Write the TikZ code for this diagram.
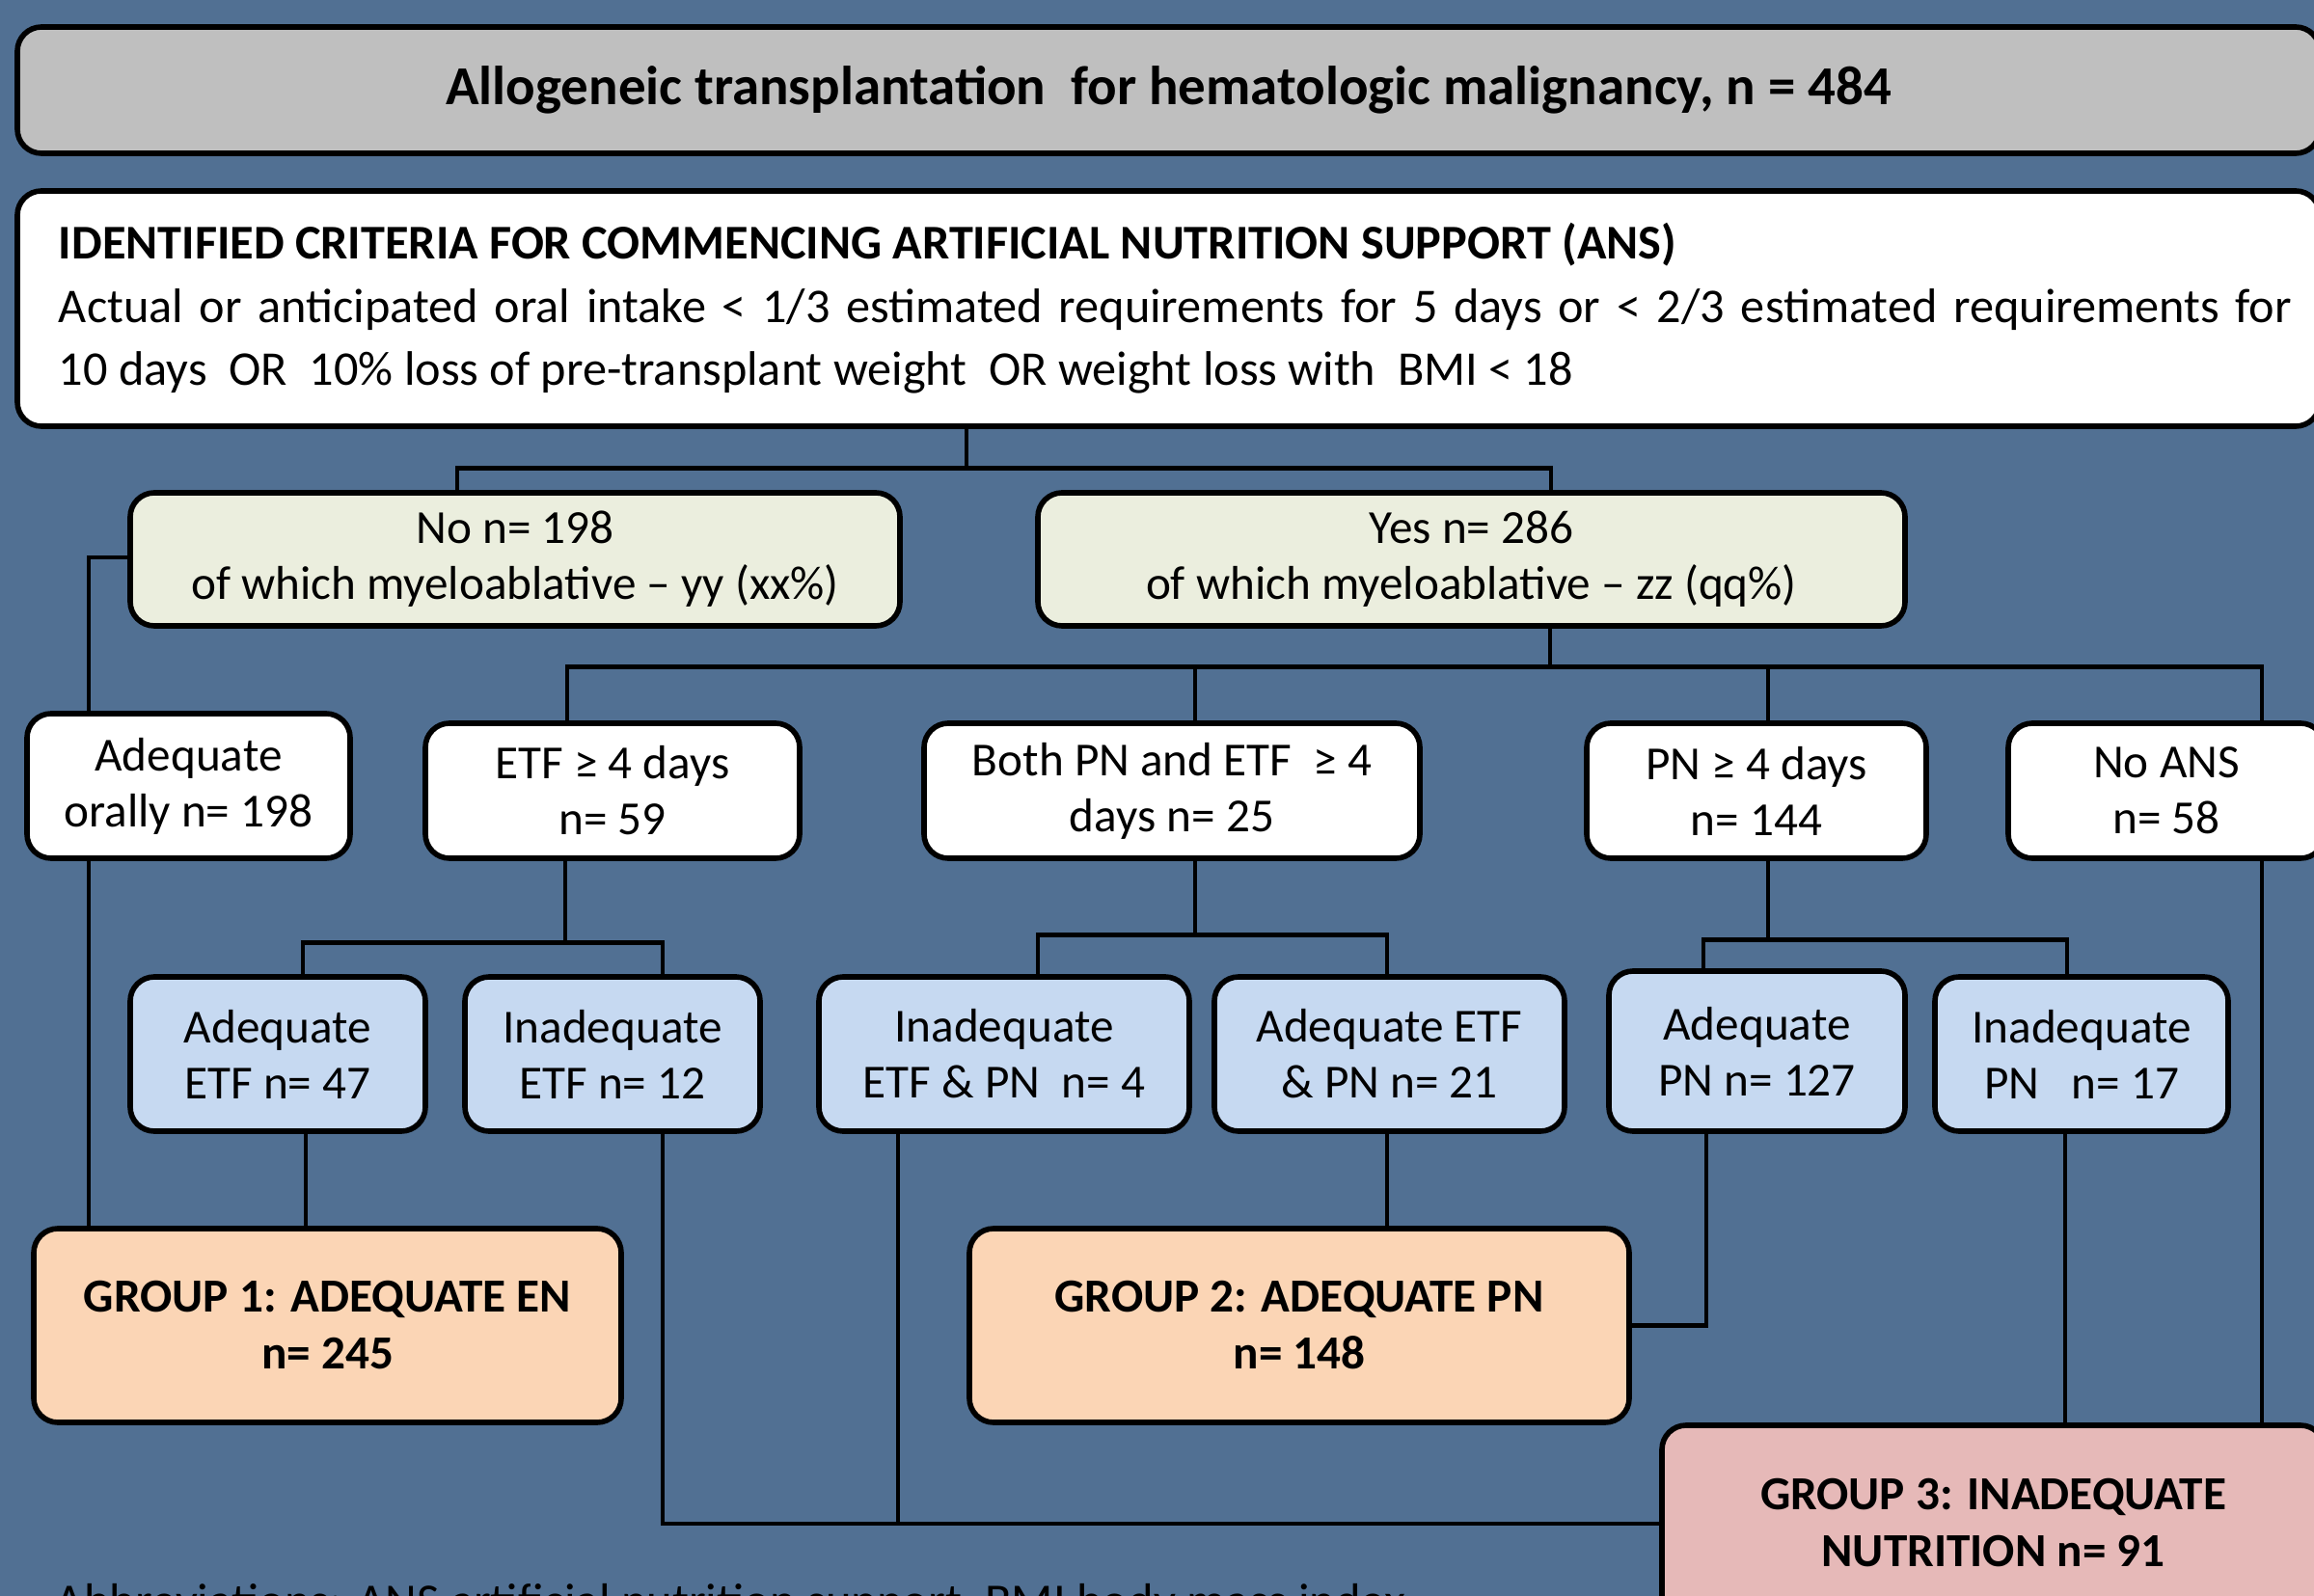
\documentclass[tikz,border=0pt]{standalone}
\usepackage{fontspec}
\setmainfont{Carlito}
\usepackage{tikz}
\usetikzlibrary{positioning}

\definecolor{bgblue}{RGB}{81,112,147}
\definecolor{titlegrey}{RGB}{191,191,191}
\definecolor{armgreen}{RGB}{235,238,222}
\definecolor{subblue}{RGB}{198,217,241}
\definecolor{grppeach}{RGB}{251,213,181}
\definecolor{grppink}{RGB}{230,185,184}

\begin{document}
\begin{tikzpicture}[
  box/.style={
    draw=black,
    line width=1.6pt,
    rounded corners=0.25cm,
    align=center,
    inner sep=2pt,
    font=\fontsize{14}{16.5}\selectfont
  },
  whitebox/.style={box, fill=white},
  armbox/.style={box, fill=armgreen, minimum width=#1, minimum height=1.38cm},
  optbox/.style={box, fill=white, minimum width=#1, minimum height=1.40cm},
  subbox/.style={box, fill=subblue, minimum width=#1, minimum height=1.60cm},
  grpbox/.style={box, minimum width=#1, minimum height=2.01cm,
    font=\fontsize{14}{16.8}\selectfont\bfseries},
  conn/.style={line width=1.4pt}
]
  \fill[bgblue] (0,0) rectangle (23.99,-16.55);
  \useasboundingbox (0,0) rectangle (23.99,-16.55);

  % header and criteria
  \node[box, fill=titlegrey, minimum width=23.87cm, minimum height=1.31cm,
    font=\fontsize{16.2}{19}\selectfont\bfseries] (title) at (12.115,-0.935)
    {Allogeneic transplantation\ \ for hematologic malignancy, n = 484};
  \node[whitebox, minimum width=23.87cm, minimum height=2.44cm, align=left,
    font=\fontsize{14.3}{18.6}\selectfont] (crit) at (12.115,-3.20)
    {\hspace*{0.14cm}\parbox{23.15cm}{\textbf{IDENTIFIED CRITERIA FOR COMMENCING ARTIFICIAL NUTRITION SUPPORT (ANS)}\\
     \makebox[23.15cm][s]{Actual or anticipated oral intake < 1/3 estimated requirements for 5 days or < 2/3 estimated requirements for}\\
     10 days\ \ OR\ \ 10\% loss of pre-transplant weight\ \ OR weight loss with\ \ BMI < 18}};

  % arms
  \node[armbox=7.98cm] (no) at (5.34,-5.80) {No n= 198\\of which myeloablative -- yy (xx\%)};
  \node[armbox=8.99cm] (yes) at (15.255,-5.80) {Yes n= 286\\of which myeloablative -- zz (qq\%)};

  % nutrition route
  \node[optbox=3.35cm, minimum height=1.50cm] (oral) at (1.955,-8.15) {Adequate\\orally n= 198};
  \node[optbox=3.88cm] (etf) at (6.35,-8.20) {ETF ≥ 4 days\\n= 59};
  \node[optbox=5.14cm] (both) at (12.15,-8.20) {Both PN and ETF\ \ ≥ 4\\days n= 25};
  \node[optbox=3.52cm] (pn) at (18.21,-8.20) {PN ≥ 4 days\\n= 144};
  \node[optbox=3.28cm] (noans) at (22.46,-8.20) {No ANS\\n= 58};

  % adequacy
  \node[subbox=3.06cm] (aetf) at (2.88,-10.93) {Adequate\\ETF n= 47};
  \node[subbox=3.06cm] (ietf) at (6.35,-10.93) {Inadequate\\ETF n= 12};
  \node[subbox=3.84cm] (iep) at (10.41,-10.93) {Inadequate\\ETF \& PN\ \ n= 4};
  \node[subbox=3.63cm] (aep) at (14.405,-10.93) {Adequate ETF\\\& PN n= 21};
  \node[subbox=3.07cm, minimum height=1.66cm] (apn) at (18.215,-10.90) {Adequate\\PN n= 127};
  \node[subbox=3.04cm] (ipn) at (21.58,-10.93) {Inadequate\\PN\ \ \ n= 17};

  % groups
  \node[grpbox=6.09cm, fill=grppeach] (g1) at (3.395,-13.745) {GROUP 1: ADEQUATE EN\\n= 245};
  \node[grpbox=6.84cm, fill=grppeach] (g2) at (13.47,-13.745) {GROUP 2: ADEQUATE PN\\n= 148};
  \node[grpbox=6.87cm, minimum height=2.02cm, fill=grppink] (g3) at (20.665,-15.79) {GROUP 3: INADEQUATE\\NUTRITION n= 91};

  \node[anchor=north west, inner sep=0pt, font=\fontsize{14.4}{17}\selectfont] (abbr) at (0.57,-16.42)
    {Abbreviations: ANS artificial nutrition support, BMI body mass index};

  % tree connectors
  \draw[conn] (crit.south -| 10.02,0) -- ++(0,-0.41) coordinate (cj);
  \draw[conn] (no.north -| 4.74,0) |- (cj) -| (yes.north -| 16.08,0);
  \draw[conn] (no.west |- 0,-5.78) -| (oral.north -| 0.92,0);
  \draw[conn] (yes.south -| 16.07,0) -- ++(0,-0.40) coordinate (yj);
  \draw[conn] (etf.north -| 5.88,0) |- (yj) -| (noans.north -| 23.45,0);
  \draw[conn] (yj -| 12.39,0) -- (both.north -| 12.39,0);
  \draw[conn] (yj -| 18.33,0) -- (pn.north -| 18.33,0);

  \draw[conn] (etf.south -| 5.86,0) -- ++(0,-0.85) coordinate (ej);
  \draw[conn] (aetf.north -| 3.14,0) |- (ej) -| (ietf.north -| 6.87,0);
  \draw[conn] (both.south -| 12.39,0) -- ++(0,-0.77) coordinate (bj);
  \draw[conn] (iep.north -| 10.76,0) |- (bj) -| (aep.north -| 14.38,0);
  \draw[conn] (pn.south -| 18.33,0) -- ++(0,-0.82) coordinate (pj);
  \draw[conn] (apn.north -| 17.66,0) |- (pj) -| (ipn.north -| 21.43,0);

  % into groups
  \coordinate (lowj) at (9.31,-15.80);
  \draw[conn] (oral.south -| 0.92,0) -- (g1.north -| 0.92,0);
  \draw[conn] (aetf.south -| 3.17,0) -- (g1.north -| 3.17,0);
  \draw[conn] (aep.south -| 14.38,0) -- (g2.north -| 14.38,0);
  \draw[conn] (apn.south -| 17.69,0) |- (g2.east);
  \draw[conn] (ietf.south -| 6.87,0) |- (g3.west |- lowj);
  \draw[conn] (iep.south -| lowj) -- (lowj);
  \draw[conn] (ipn.south -| 21.41,0) -- (g3.north -| 21.41,0);
  \draw[conn] (noans.south -| 23.45,0) -- (g3.north -| 23.45,0);
\end{tikzpicture}
\end{document}
